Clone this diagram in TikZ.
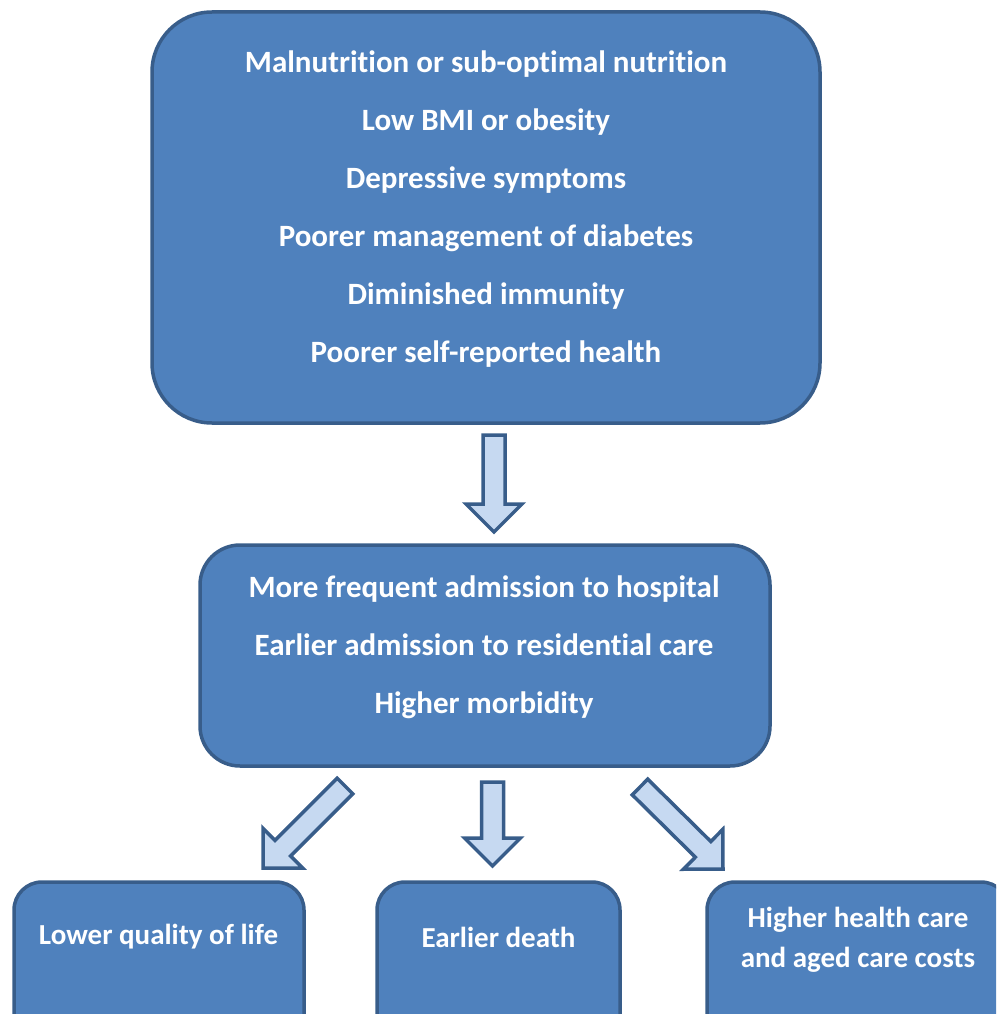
\documentclass[tikz,border=0pt]{standalone}
\usepackage{fontspec}
\setmainfont{Carlito}[Ligatures=NoCommon]
\usetikzlibrary{calc}
\definecolor{boxfill}{HTML}{4F81BD}
\definecolor{boxline}{HTML}{385D8A}
\definecolor{arrfill}{HTML}{C6D9F1}
\newcommand{\blockarr}[2]{%
  \coordinate (ba-c) at ($(#2)!28pt!(#1)$);
  \draw[barrow] ($(#1)!11pt!90:(#2)$) -- ($(ba-c)!11pt!90:(#2)$) -- ($(ba-c)!28pt!90:(#2)$) -- (#2)
     -- ($(ba-c)!28pt!-90:(#2)$) -- ($(ba-c)!11pt!-90:(#2)$) -- ($(#1)!11pt!-90:(#2)$) -- cycle;}
\begin{document}
\begin{tikzpicture}[x=1pt,y=-1pt,
  box/.style={draw=boxline, fill=boxfill, line width=3.5pt, inner sep=0pt, rectangle},
  txt/.style={text=white, font=\fontsize{31}{58}\selectfont\bfseries, align=center, inner sep=0pt},
  txtb/.style={txt, font=\fontsize{29}{40}\selectfont\bfseries},
  barrow/.style={draw=boxline, fill=arrfill, line width=3.5pt, line join=miter}]
\useasboundingbox (0,0) rectangle (996,1014);
\clip (0,0) rectangle (996,1014);
% boxes
\node[box, rounded corners=60pt, minimum width=668pt, minimum height=411pt] (top) at (486,217.5) {};
\node[box, rounded corners=40pt, minimum width=570pt, minimum height=221pt] (mid) at (485,655.5) {};
\node[box, rounded corners=28pt, minimum width=290pt, minimum height=180pt] (bl) at (159,972) {};
\node[box, rounded corners=28pt, minimum width=243pt, minimum height=180pt] (bm) at (498.5,972) {};
\node[box, rounded corners=28pt, minimum width=302pt, minimum height=180pt] (br) at (858,972) {};
% texts
\node[txt] (ttop) at (486,209) {Malnutrition or sub-optimal nutrition\\Low BMI or obesity\\Depressive symptoms\\Poorer management of diabetes\\Diminished immunity\\Poorer self-reported health};
\node[txt] (tmid) at (484,647) {More frequent admission to hospital\\Earlier admission to residential care\\Higher morbidity};
\node[txtb] (tbl) at (158.5,937) {Lower quality of life};
\node[txtb] (tbm) at (498.5,937) {Earlier death};
\node[txtb] (tbr) at (858,939.5) {Higher health care\\and aged care costs};
% arrows
\coordinate (a1s) at (494,435);
\coordinate (a1e) at (494,532);
\coordinate (a2s) at (492.5,782);
\coordinate (a2e) at (492.5,866);
\coordinate (a3s) at (345,786);
\coordinate (a3e) at (263,868);
\coordinate (a4s) at (640,787);
\coordinate (a4e) at (723,869);
\blockarr{a1s}{a1e}
\blockarr{a2s}{a2e}
\blockarr{a3s}{a3e}
\blockarr{a4s}{a4e}
\end{tikzpicture}
\end{document}
